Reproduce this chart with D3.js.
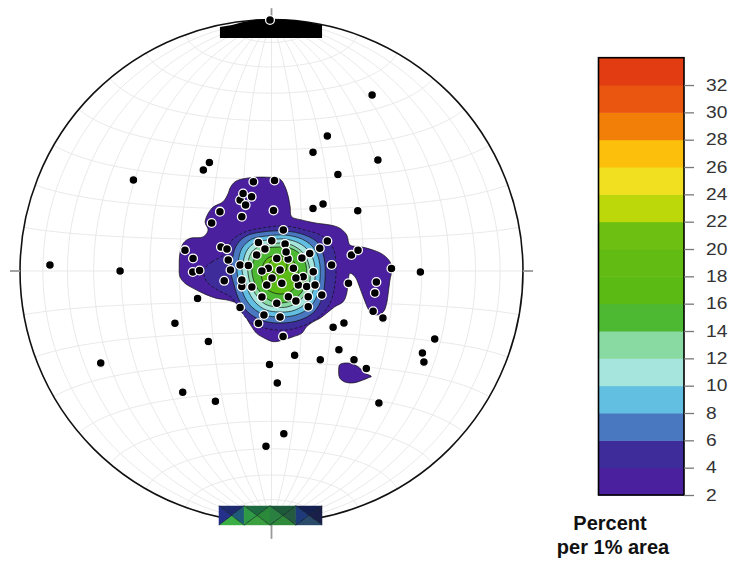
<!DOCTYPE html>
<html><head><meta charset="utf-8">
<script src="https://cdn.jsdelivr.net/npm/d3@7"></script>
<style>body{margin:0;background:#fff}</style>
</head><body><svg id="c" width="730" height="561"></svg>
<script>
// Poles on the equal-area net: x = east, y = north, in percent of the primitive radius
const poleX = [-0.6,40.0,22.2,16.5,42.3,26.4,-24.7,-27.1,-54.9,-88.1,-60.2,59.2,47.7,16.5,20.5,34.3,-38.4,-25.1,-67.9,-29.4,-0.8,2.3,-35.3,-22.3,-2.2,4.9,42.7,64.9,60.0,60.6,26.8,9.2,19.4,32.8,37.7,24.5,28.8,40.4,44.3,4.6,-7.2,1.2,-12.5,-10.3,-7.9,-11.3,-20.5,-23.8,-11.8,0.8,-34.4,-31.2,-31.3,-28.6,-18.8,-20.1,-17.7,-17.2,-5.2,0.1,4.7,5.4,-5.9,2.1,22.2,19.2,15.2,31.8,34.4,23.9,-12.5,-9.2,-1.3,3.4,8.7,16.6,12.6,-11.8,-1.9,4.1,10.7,14.0,17.3,20.0,14.6,6.7,2.1,14.6,30.6,-12.5,-3.0,3.4,-5.2,41.7,41.1,-3.8,0.2,6.6,9.7,-3.8,9.7,-7.8,-16.3,12.1,-2.6,5.8,-11.8];
const poleY = [99.8,70.0,53.7,47.2,44.1,38.4,43.1,40.2,36.2,2.4,0,-0.4,1.0,24.9,26.6,24.0,-20.8,-28.0,-36.6,-10.9,-37.2,-44.5,-48.2,-51.8,-69.7,-64.7,-52.5,-27.0,-32.6,-36.2,-31.3,-33.5,-35.3,-35.3,-38.8,-22.4,-20.7,-16.0,-18.7,-26.0,35.5,36.0,28.2,26.2,29.5,30.8,23.6,19.1,21.6,24.1,8.3,5.0,-0.4,0.2,-3.9,9.5,8.7,4.4,11.3,12.0,16.3,10.7,6.4,5.0,11.9,9.0,7.0,6.4,8.3,2.4,2.4,2.2,1.1,0.4,1.1,-0.3,-2.3,-6.2,-5.6,-4.9,-5.6,-6.2,-5.6,-9.5,-10.2,-10.2,-12.8,-14.2,-4.9,-14.5,-17.5,-18.3,-20.8,-4.4,-8.7,0,-2.8,4.8,-2.8,-10.3,-11.9,-6.4,0.4,5.2,8.7,7.6,-3.6];

// Contour levels (percent per 1% area) and band colours
const levels = [2,4,6,8,10,12,14,16,18,20,22,24,26,28,30,32,34];
const bandColors = ["#4a209f","#3e2c9b","#4a78c0","#63bfe2","#a6e5dd","#88d9a2","#4db832","#5cba15","#62bb12","#6dbf12","#bcd70a","#f0e020","#fbbf0c","#f28008","#ea5510","#e23d12"];
const tickLabels = [2,4,6,8,10,12,14,16,18,20,22,24,26,28,30,32];

// Contour outlines (net coordinates)
const ring2 = [[-16.5,32.9],[-14.5,35.5],[-9.9,36.9],[-1.9,37.3],[3.4,36.5],[5.4,33.5],[6.7,29.5],[7.4,25.6],[8.0,21.6],[12.0,20.3],[18.0,19.0],[23.3,18.3],[27.2,17.0],[29.9,14.3],[31.2,10.3],[35.2,9.7],[40.5,8.3],[44.5,6.4],[47.1,3.7],[47.8,0.4],[47.1,-3.6],[46.4,-8.9],[45.8,-12.8],[44.5,-16.2],[41.8,-17.5],[39.2,-16.2],[37.2,-12.2],[35.2,-6.9],[33.2,-2.3],[31.2,-0.9],[30.5,-3.6],[29.9,-8.9],[28.5,-12.2],[25.2,-14.2],[21.9,-16.8],[19.3,-18.8],[16.6,-20.2],[14.0,-22.1],[12.0,-24.8],[8.7,-26.1],[4.7,-27.4],[0.7,-28.1],[-2.6,-26.8],[-5.9,-24.8],[-7.9,-22.1],[-9.9,-18.8],[-11.2,-15.5],[-13.8,-12.8],[-17.8,-11.5],[-21.8,-10.9],[-27.1,-8.9],[-31.1,-6.9],[-34.4,-4.9],[-36.4,-2.3],[-36.7,1.7],[-36.4,7.0],[-35.1,11.0],[-32.4,13.0],[-27.1,13.6],[-25.2,16.3],[-26.4,19.5],[-23.7,25.0],[-19.2,27.6],[-17.2,30.9]];
const ring2b = [[27.1,-37.3],[29.1,-36.6],[32.4,-37.0],[35.1,-38.6],[37.1,-40.6],[39.7,-41.9],[38.4,-42.5],[35.7,-43.6],[32.4,-44.5],[29.1,-44.1],[27.1,-42.5],[26.7,-39.9]];
const ring4 = [[-26.4,1.2],[-23.7,3.6],[-18.5,6.8],[-15.7,12.3],[-10.5,15.5],[-3.8,17.1],[5.4,17.9],[13.3,16.3],[20.1,13.9],[24.5,9.1],[25.6,2.4],[25.2,-5.6],[23.3,-12.7],[19.3,-17.9],[13.3,-21.5],[5.4,-23.5],[-2.6,-22.7],[-8.5,-20.3],[-12.5,-15.5],[-15.7,-10.7],[-21.3,-7.6],[-25.6,-4.4],[-26.8,-1.6]];
const ring6 = [[-15.7,3.6],[-14.1,9.9],[-10.1,13.9],[-3.8,15.5],[5.4,15.9],[13.3,14.3],[18.5,11.1],[20.9,5.2],[21.3,-2.8],[20.1,-10.7],[16.9,-16.3],[11.3,-19.5],[4.2,-20.7],[-3.0,-19.9],[-8.5,-17.1],[-12.5,-12.3],[-14.9,-5.6],[-16.1,-0.4]];
const ring8 = [[-13.3,3.6],[-11.7,9.1],[-7.8,12.7],[-2.2,13.9],[5.4,14.3],[12.1,12.7],[16.5,9.5],[18.9,4.4],[19.3,-2.8],[18.1,-9.9],[14.9,-14.7],[9.7,-17.5],[3.4,-18.3],[-2.6,-17.5],[-7.4,-14.7],[-10.5,-10.7],[-12.5,-5.2],[-13.7,-0.4]];
const ring10 = [[-11.3,3.6],[-9.7,8.3],[-6.2,11.5],[-1.4,12.3],[5.4,12.7],[10.9,11.1],[14.5,8.3],[16.9,3.6],[17.3,-2.8],[16.1,-9.1],[12.9,-13.5],[8.2,-15.9],[3.0,-16.3],[-2.2,-15.5],[-6.2,-12.7],[-8.9,-8.7],[-10.5,-4.0],[-11.7,0]];
const ring12 = [[-9.3,3.6],[-7.8,7.6],[-4.6,9.9],[-0.6,10.7],[5.4,11.1],[9.7,9.5],[12.9,6.8],[14.9,2.4],[15.3,-3.6],[13.7,-8.7],[10.5,-12.3],[6.2,-14.3],[1.8,-14.3],[-2.6,-13.1],[-5.8,-9.9],[-8.2,-5.6],[-9.3,-1.2]];
const ring14 = [[-7.8,1.2],[-6.2,6.0],[-3.0,8.7],[1.8,9.5],[7.4,9.1],[11.3,6.8],[13.7,2.4],[13.7,-3.6],[12.1,-8.3],[8.5,-11.5],[3.8,-12.7],[-1.0,-11.5],[-4.6,-8.3],[-7.0,-4.0]];
const ring16 = [[-3.8,1.2],[-1.4,5.2],[3.4,6.0],[8.2,4.4],[10.5,0.4],[10.1,-4.8],[7.4,-8.3],[2.6,-9.1],[-1.8,-7.2],[-3.8,-3.2]];
const ring18 = [[-0.6,3.6],[2.6,5.2],[5.8,3.6],[5.8,0.4],[2.6,-1.2],[-0.2,0.4]];
const contourSet = [
  {level:2, ring:ring2, dash:null}, {level:2, ring:ring2b, dash:null},
  {level:4, ring:ring4, dash:"3,2"}, {level:6, ring:ring6, dash:null},
  {level:8, ring:ring8, dash:null}, {level:10, ring:ring10, dash:null},
  {level:12, ring:ring12, dash:null}, {level:14, ring:ring14, dash:null},
  {level:16, ring:ring16, dash:null}, {level:18, ring:ring18, dash:null}
];

// Edge cells of the counting grid at the north and south rim
const rimTop = [[-20.5,92.6],[-20.5,97.0],[-15.7,97.8],[-11.3,99.0],[-5.4,100.0],[5.4,100.0],[11.3,99.4],[16.1,98.6],[20.1,97.8],[20.1,92.6]];
const rimBottomX = [-20.9,-10.9,-0.6,9.7,20.1];
const rimBottomY = [-93.4,-101.0];
const rimBottomColors = [
  ["#1d2a6e","#1f5a7a","#3cae46","#24308a"],
  ["#1e6a40","#2a8a3a","#3aa040","#2f9a45"],
  ["#1c5a3a","#245a40","#2f8a3a","#2a8040"],
  ["#14204f","#1a1f4a","#2a4a6a","#1e3a7a"]
];

const cx = 271.5, cy = 271, R = 251.5;
const x = d3.scaleLinear().domain([-100,100]).range([cx-R, cx+R]);
const y = d3.scaleLinear().domain([-100,100]).range([cy+R, cy-R]);
const svg = d3.select('#c');
svg.append('rect').attr('width',730).attr('height',561).attr('fill','#fff');
svg.append('defs').append('clipPath').attr('id','net')
  .append('circle').attr('cx',x(0)).attr('cy',y(0)).attr('r',x(100)-x(0));

// Schmidt net grid (10 degree)
const rad = Math.PI/180;
const proj = (e,n,d) => { const k = 100/Math.sqrt(1+Math.max(d,0)); return [e*k, n*k]; };
const grid = [];
for (let lam=10; lam<180; lam+=10) {
  const p=[]; for (let t=-90;t<=90;t+=2) p.push(proj(Math.cos(t*rad)*Math.cos(lam*rad), Math.sin(t*rad), Math.cos(t*rad)*Math.sin(lam*rad)));
  grid.push(p);
}
for (let phi=-80; phi<=80; phi+=10) {
  const p=[]; for (let l=0;l<=180;l+=2) p.push(proj(Math.cos(phi*rad)*Math.cos(l*rad), Math.sin(phi*rad), Math.cos(phi*rad)*Math.sin(l*rad)));
  grid.push(p);
}
const gline = d3.line().x(d=>x(d[0])).y(d=>y(d[1]));
const net = svg.append('g').attr('clip-path','url(#net)');
net.selectAll('path.grid').data(grid).join('path').attr('class','grid')
  .attr('d',gline).attr('fill','none').attr('stroke','#e6e6e6').attr('stroke-width',0.9);

// Contours
const colorOf = d3.scaleThreshold().domain(levels.slice(1,-1)).range(bandColors);
const cline = d3.line().x(d=>x(d[0])).y(d=>y(d[1])).curve(d3.curveCatmullRomClosed.alpha(0.5));
net.selectAll('path.ct').data(contourSet).join('path').attr('class','ct')
  .attr('d',d=>cline(d.ring)).attr('fill',d=>colorOf(d.level))
  .attr('stroke','#111').attr('stroke-width',0.7)
  .attr('stroke-dasharray',d=>d.dash);

// Primitive circle and axis ticks
svg.append('circle').attr('cx',x(0)).attr('cy',y(0)).attr('r',x(100)-x(0))
  .attr('fill','none').attr('stroke','#111').attr('stroke-width',1.6);
const tk = [[[-104,0],[-100,0]],[[100,0],[104,0]],[[0,-100],[0,-106.5]],[[0,100],[0,104.5]]];
svg.selectAll('path.tk').data(tk).join('path').attr('class','tk')
  .attr('d',gline).attr('stroke','#999').attr('stroke-width',1.8);

// Rim cells
svg.append('path').datum(rimTop).attr('d',d3.line().x(d=>x(d[0])).y(d=>y(d[1]))+'')
  .attr('d',d=>gline(d)+'Z').attr('fill','#000');
const cells = d3.range(4).map(i=>({x0:rimBottomX[i],x1:rimBottomX[i+1],c:rimBottomColors[i]}));
const cg = svg.append('g');
cells.forEach(cell=>{
  const X0=x(cell.x0), X1=x(cell.x1), Y0=y(rimBottomY[0]), Y1=y(rimBottomY[1]);
  const mx=(X0+X1)/2, my=(Y0+Y1)/2;
  const tris=[[[X0,Y0],[X1,Y0]],[[X1,Y0],[X1,Y1]],[[X1,Y1],[X0,Y1]],[[X0,Y1],[X0,Y0]]];
  tris.forEach((t,j)=>cg.append('path').attr('d',`M${t[0]}L${t[1]}L${mx},${my}Z`)
    .attr('fill',cell.c[j]).attr('stroke',cell.c[j]).attr('stroke-width',0.4));
  cg.append('path').attr('d',`M${X0},${Y0}L${X1},${Y1}M${X1},${Y0}L${X0},${Y1}`)
    .attr('stroke','#0a1a1a').attr('stroke-width',0.8).attr('opacity',0.7);
});

// Poles
svg.append('g').selectAll('circle').data(d3.range(poleX.length)).join('circle')
  .attr('cx',i=>x(poleX[i])).attr('cy',i=>y(poleY[i])).attr('r',4.4)
  .attr('fill','#000').attr('stroke','#fff').attr('stroke-width',1.3);

// Colour bar
const cb = d3.scaleLinear().domain([2,34]).range([495,57.7]);
const bx = 598.5, bw = 85.5;
svg.append('g').selectAll('rect').data(d3.range(bandColors.length)).join('rect')
  .attr('x',bx).attr('width',bw)
  .attr('y',i=>cb(levels[i+1])).attr('height',i=>cb(levels[i])-cb(levels[i+1])+0.5)
  .attr('fill',i=>bandColors[i]);
svg.append('rect').attr('x',bx).attr('y',cb(34)).attr('width',bw).attr('height',cb(2)-cb(34))
  .attr('fill','none').attr('stroke','#000').attr('stroke-width',1.6);
const ax = svg.append('g').attr('transform',`translate(${bx+bw},0)`)
  .call(d3.axisRight(cb).tickValues(tickLabels).tickSize(10).tickPadding(12));
ax.select('.domain').remove();
ax.selectAll('line').attr('stroke','#777').attr('stroke-width',1.3);
ax.selectAll('text').attr('font-family','Liberation Sans, Arial, sans-serif').attr('font-size',16)
  .attr('fill','#333').attr('x',22/1.2).attr('transform','scale(1.2,1)');

svg.append('text').attr('x',610).attr('y',530).attr('text-anchor','middle')
  .attr('font-family','Liberation Sans, Arial, sans-serif').attr('font-weight','bold').attr('font-size',20)
  .attr('fill','#111').text('Percent');
svg.append('text').attr('x',613).attr('y',554).attr('text-anchor','middle')
  .attr('font-family','Liberation Sans, Arial, sans-serif').attr('font-weight','bold').attr('font-size',20)
  .attr('fill','#111').text('per 1% area');
</script></body></html>
